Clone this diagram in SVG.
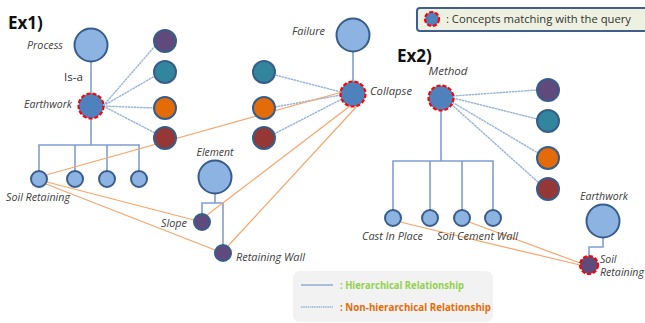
<svg xmlns="http://www.w3.org/2000/svg" width="645" height="323" viewBox="0 0 645 323">
  <style>
    .lbl { font-family: "Open Sans", "Noto Sans", sans-serif; font-style: italic; font-size: 10.5px; fill: #404040; }
    .title { font-family: "Open Sans", "Noto Sans", sans-serif; font-weight: bold; font-size: 17px; fill: #111; }
    .node { stroke: #385d8a; stroke-width: 2; }
    .big { fill: #8db3e2; }
    .small { fill: #8db3e2; }
    .match { fill: #4f81bd; stroke: #ff0000; stroke-width: 2.2; stroke-dasharray: 4 2; }
    .purple { fill: #604a7b; }
    .teal { fill: #31859c; }
    .orange { fill: #e36c09; }
    .red { fill: #953735; }
    .hier { fill: none; stroke: #7f9fd0; stroke-width: 1.6; }
    .rel { fill: none; stroke: #95b3d7; stroke-width: 1.4; stroke-dasharray: 2.5 0.6; }
    .nonh { fill: none; stroke: #f6a56a; stroke-width: 1.2; }
  </style>

  <!-- legend: matched concepts -->
  <g id="legend-match">
    <rect x="417" y="8" width="240" height="23" rx="3" fill="#eef1e1" stroke="#3f5f86" stroke-width="2"/>
    <circle cx="432" cy="19" r="7" class="match"/>
    <text x="446" y="23" font-family="Open Sans, Noto Sans, sans-serif" font-size="11" fill="#333" textLength="185" lengthAdjust="spacingAndGlyphs">: Concepts matching with the query</text>
  </g>

  <!-- legend: relationship kinds -->
  <g id="legend-relations">
    <rect x="293" y="271" width="200" height="51" rx="7" fill="#f2f2f2"/>
    <line x1="301" y1="285" x2="333" y2="285" stroke="#7f9fd0" stroke-width="1.3"/>
    <text x="340" y="289" font-family="Open Sans, Noto Sans, sans-serif" font-weight="bold" font-size="10.5" fill="#92d050" textLength="124" lengthAdjust="spacingAndGlyphs">: Hierarchical Relationship</text>
    <line x1="301" y1="307" x2="333" y2="307" stroke="#95b3d7" stroke-width="1.3" stroke-dasharray="1.5 0.7"/>
    <text x="340" y="311" font-family="Open Sans, Noto Sans, sans-serif" font-weight="bold" font-size="10.5" fill="#e36c09" textLength="151" lengthAdjust="spacingAndGlyphs">: Non-hierarchical Relationship</text>
  </g>

  <text class="title" x="8" y="29">Ex1)</text>
  <text class="title" x="397" y="62">Ex2)</text>

  <!-- connectors -->
  <g id="connectors">
    <!-- Ex1 hierarchy -->
    <path class="hier" d="M91 62 V94"/>
    <path class="hier" d="M91 119 V145 M39 171 V145 H139 V171 M75 145 V171 M107 145 V171"/>
    <path class="hier" d="M215 193 V203 M202 214 V203 H223 V245"/>
    <path class="hier" d="M353 52 V82"/>
    <!-- Ex1 relations -->
    <path class="rel" d="M103 106 L155 46 M103 106 L155 76 M103 106 L154 108 M103 106 L155 133"/>
    <path class="rel" d="M341 92 L275 75 M341 95 L275 107 M342 99 L274 134"/>
    <!-- Ex1 non-hierarchical -->
    <path class="nonh" d="M46 175 L342 92"/>
    <path class="nonh" d="M350 106 L207 215"/>
    <path class="nonh" d="M358 105 L228 246"/>
    <path class="nonh" d="M47 182 L194 220"/>
    <path class="nonh" d="M46 184 L215 250"/>
    <!-- Ex2 hierarchy -->
    <path class="hier" d="M441 110 V161 M393 210 V161 H493 V210 M430 161 V210 M462 161 V210"/>
    <path class="hier" d="M603 238 V247 H589 V256"/>
    <!-- Ex2 relations -->
    <path class="rel" d="M453 96 L537 90 M453 98 L537 119 M452 102 L538 153 M451 104 L539 183"/>
    <!-- Ex2 non-hierarchical -->
    <path class="nonh" d="M400 222 L580 265"/>
    <path class="nonh" d="M469 222 L580 263"/>
  </g>

  <!-- Ex1 nodes -->
  <g id="process"><circle class="node big" cx="91" cy="45" r="16.5"/><text class="lbl" x="63" y="49" text-anchor="end" textLength="36" lengthAdjust="spacingAndGlyphs">Process</text></g>
  <text x="64" y="81" font-family="Open Sans, Noto Sans, sans-serif" font-size="10.5" fill="#333" textLength="19" lengthAdjust="spacingAndGlyphs">Is-a</text>
  <g id="earthwork"><circle class="match" cx="91" cy="106" r="12.5"/><text class="lbl" x="72" y="108" text-anchor="end" textLength="48" lengthAdjust="spacingAndGlyphs">Earthwork</text></g>
  <g id="ew-purple"><circle class="node purple" cx="165" cy="41" r="11"/></g>
  <g id="ew-teal"><circle class="node teal" cx="165" cy="72" r="11"/></g>
  <g id="ew-orange"><circle class="node orange" cx="165" cy="108" r="11"/></g>
  <g id="ew-red"><circle class="node red" cx="165" cy="138" r="11"/></g>
  <g id="soil-retaining"><circle class="node small" cx="39" cy="179" r="8"/><text class="lbl" x="6" y="201" textLength="64" lengthAdjust="spacingAndGlyphs">Soil Retaining</text></g>
  <g id="ew-child-2"><circle class="node small" cx="75" cy="179" r="8"/></g>
  <g id="ew-child-3"><circle class="node small" cx="107" cy="179" r="8"/></g>
  <g id="ew-child-4"><circle class="node small" cx="139" cy="179" r="8"/></g>
  <g id="element"><circle class="node big" cx="215" cy="177" r="16.5"/><text class="lbl" x="215" y="156" text-anchor="middle" textLength="37" lengthAdjust="spacingAndGlyphs">Element</text></g>
  <g id="slope"><circle class="node purple" cx="202" cy="222" r="8"/><text class="lbl" x="187" y="227" text-anchor="end" textLength="26" lengthAdjust="spacingAndGlyphs">Slope</text></g>
  <g id="retaining-wall"><circle class="node purple" cx="223" cy="253" r="8"/><text class="lbl" x="236" y="261" textLength="69" lengthAdjust="spacingAndGlyphs">Retaining Wall</text></g>
  <g id="failure"><circle class="node big" cx="353" cy="35" r="16.5"/><text class="lbl" x="325" y="35" text-anchor="end" textLength="33" lengthAdjust="spacingAndGlyphs">Failure</text></g>
  <g id="collapse"><circle class="match" cx="353" cy="94" r="12.5"/><text class="lbl" x="370" y="95" textLength="42" lengthAdjust="spacingAndGlyphs">Collapse</text></g>
  <g id="col-teal"><circle class="node teal" cx="264" cy="72" r="11"/></g>
  <g id="col-orange"><circle class="node orange" cx="264" cy="108" r="11"/></g>
  <g id="col-red"><circle class="node red" cx="264" cy="138" r="11"/></g>

  <!-- Ex2 nodes -->
  <g id="method"><circle class="match" cx="441" cy="98" r="12.5"/><text class="lbl" x="448" y="75" text-anchor="middle" textLength="39" lengthAdjust="spacingAndGlyphs">Method</text></g>
  <g id="me-purple"><circle class="node purple" cx="548" cy="90" r="11"/></g>
  <g id="me-teal"><circle class="node teal" cx="548" cy="121" r="11"/></g>
  <g id="me-orange"><circle class="node orange" cx="548" cy="158" r="11"/></g>
  <g id="me-red"><circle class="node red" cx="548" cy="189" r="11"/></g>
  <g id="cast-in-place"><circle class="node small" cx="393" cy="218" r="8"/><text class="lbl" x="362" y="240" textLength="61" lengthAdjust="spacingAndGlyphs">Cast In Place</text></g>
  <g id="me-child-2"><circle class="node small" cx="430" cy="218" r="8"/></g>
  <g id="soil-cement-wall"><circle class="node small" cx="462" cy="218" r="8"/><text class="lbl" x="437" y="240" textLength="81" lengthAdjust="spacingAndGlyphs">Soil Cement Wall</text></g>
  <g id="me-child-4"><circle class="node small" cx="493" cy="218" r="8"/></g>
  <g id="earthwork-2"><circle class="node big" cx="603" cy="221" r="16.5"/><text class="lbl" x="604" y="200" text-anchor="middle" textLength="48" lengthAdjust="spacingAndGlyphs">Earthwork</text></g>
  <g id="soil-retaining-2"><circle cx="589" cy="265" r="9" fill="#604a7b" stroke="#ff0000" stroke-width="2.2" stroke-dasharray="4 2"/>
    <text class="lbl" x="600" y="263" font-size="10">Soil</text><text class="lbl" x="600" y="276" font-size="10" textLength="44" lengthAdjust="spacingAndGlyphs">Retaining</text></g>
</svg>
